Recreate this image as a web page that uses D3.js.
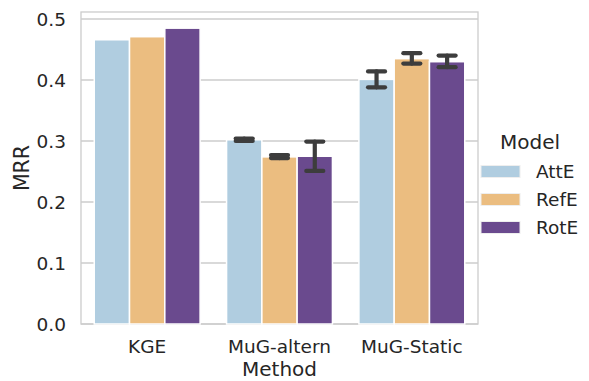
<!DOCTYPE html>
<html>
<head>
<meta charset="utf-8">
<script src="https://cdn.jsdelivr.net/npm/d3@7"></script>
<style>
  html, body { margin: 0; padding: 0; background: #fff; }
  svg { display: block; font-family: "DejaVu Sans", sans-serif; }
</style>
</head>
<body>
<svg id="chart" width="589" height="381"></svg>
<script>
// Mean reciprocal rank per method and embedding model
const methods = ["KGE", "MuG-altern", "MuG-Static"];
const models = ["AttE", "RefE", "RotE"];
const colors = ["#b0cde0", "#ebbd80", "#6a4a8e"];
const mrrAttE = [0.466, 0.302, 0.401];
const mrrRefE = [0.471, 0.274, 0.435];
const mrrRotE = [0.485, 0.275, 0.430];
// error interval [low, high]; null where no interval is drawn
const errAttE = [null, [0.300, 0.304], [0.388, 0.414]];
const errRefE = [null, [0.272, 0.277], [0.427, 0.444]];
const errRotE = [null, [0.251, 0.299], [0.421, 0.440]];
const yTicks = [0.0, 0.1, 0.2, 0.3, 0.4, 0.5];

const series = [mrrAttE, mrrRefE, mrrRotE];
const errors = [errAttE, errRefE, errRotE];

const svg = d3.select("#chart");
const m = { left: 81, right: 478, top: 12, bottom: 324 };

const x = d3.scaleBand().domain(methods).range([m.left, m.right]).paddingInner(0).paddingOuter(0);
const x1 = d3.scaleBand().domain(models).range([0, x.bandwidth() * 0.8]);
const y = d3.scaleLinear().domain([0, 0.5115]).range([m.bottom, m.top]);

// grid
svg.append("g").selectAll("line").data(yTicks).join("line")
  .attr("x1", m.left).attr("x2", m.right)
  .attr("y1", d => y(d)).attr("y2", d => y(d))
  .attr("stroke", "#cccccc").attr("stroke-width", 1.6);

// frame
svg.append("rect")
  .attr("x", m.left).attr("y", m.top)
  .attr("width", m.right - m.left).attr("height", m.bottom - m.top)
  .attr("fill", "none").attr("stroke", "#cccccc").attr("stroke-width", 1.3);

// bars
const groupOffset = x.bandwidth() * 0.1;
const rows = [];
methods.forEach((meth, i) => {
  models.forEach((mod, j) => {
    rows.push({ meth, mod, j, v: series[j][i], e: errors[j][i] });
  });
});

svg.append("g").selectAll("rect").data(rows).join("rect")
  .attr("x", d => x(d.meth) + groupOffset + x1(d.mod))
  .attr("y", d => y(d.v))
  .attr("width", x1.bandwidth())
  .attr("height", d => y(0) - y(d.v))
  .attr("fill", d => colors[d.j])
  .attr("stroke", "#ffffff").attr("stroke-width", 1.5);

// error bars
const eb = svg.append("g").attr("stroke", "#3d3d3d").attr("stroke-width", 4.2).attr("stroke-linecap", "round");
rows.filter(d => d.e).forEach(d => {
  const cx = x(d.meth) + groupOffset + x1(d.mod) + x1.bandwidth() / 2;
  const capHalf = 8.5;
  eb.append("line").attr("x1", cx).attr("x2", cx).attr("y1", y(d.e[0])).attr("y2", y(d.e[1]));
  eb.append("line").attr("x1", cx - capHalf).attr("x2", cx + capHalf).attr("y1", y(d.e[0])).attr("y2", y(d.e[0]));
  eb.append("line").attr("x1", cx - capHalf).attr("x2", cx + capHalf).attr("y1", y(d.e[1])).attr("y2", y(d.e[1]));
});

// y tick labels
svg.append("g").selectAll("text").data(yTicks).join("text")
  .attr("x", 66).attr("y", d => y(d))
  .attr("dy", "0.36em")
  .attr("text-anchor", "end")
  .attr("font-size", 18.5).attr("fill", "#262626")
  .text(d => d3.format(".1f")(d));

// x tick labels
svg.append("g").selectAll("text").data(methods).join("text")
  .attr("x", d => x(d) + x.bandwidth() / 2).attr("y", 353)
  .attr("text-anchor", "middle")
  .attr("font-size", 18.5).attr("fill", "#262626")
  .text(d => d);

// axis titles
svg.append("text")
  .attr("x", (m.left + m.right) / 2).attr("y", 376)
  .attr("text-anchor", "middle").attr("font-size", 20).attr("fill", "#262626")
  .text("Method");
svg.append("text")
  .attr("transform", `translate(29,${(m.top + m.bottom) / 2}) rotate(-90)`)
  .attr("text-anchor", "middle").attr("font-size", 20.5).attr("fill", "#262626")
  .text("MRR");

// legend
const lg = svg.append("g");
lg.append("text").attr("x", 530).attr("y", 149)
  .attr("text-anchor", "middle").attr("font-size", 20).attr("fill", "#262626")
  .text("Model");
models.forEach((mod, j) => {
  const top = 165.5 + j * 28;
  lg.append("rect").attr("x", 481).attr("y", top).attr("width", 39).attr("height", 12)
    .attr("fill", colors[j]).attr("stroke", "#eeeeee").attr("stroke-width", 1);
  lg.append("text").attr("x", 536).attr("y", top + 6).attr("dy", "0.36em")
    .attr("font-size", 18.5).attr("fill", "#262626").text(mod);
});
</script>
</body>
</html>
